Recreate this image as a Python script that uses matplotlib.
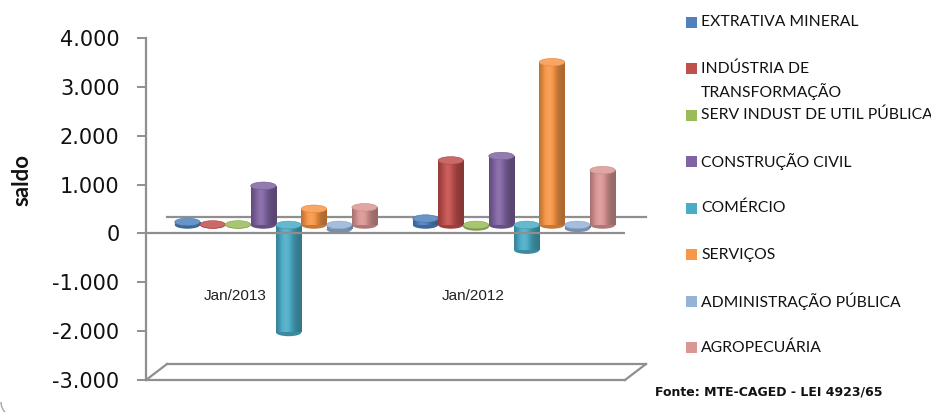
import numpy as np
import matplotlib
matplotlib.use("Agg")
import matplotlib.pyplot as plt
import matplotlib.transforms as mtransforms
from matplotlib.patches import Ellipse, Rectangle, Arc
from matplotlib.lines import Line2D
from matplotlib.colors import to_rgb

# ---------------- data ----------------
periods = ["Jan/2013", "Jan/2012"]
sectors = ["EXTRATIVA MINERAL", "INDÚSTRIA DE\nTRANSFORMAÇÃO",
           "SERV INDUST DE UTIL PÚBLICA", "CONSTRUÇÃO CIVIL", "COMÉRCIO",
           "SERVIÇOS", "ADMINISTRAÇÃO PÚBLICA", "AGROPECUÁRIA"]
extrativa = [60, 130]
industria = [10, 1320]
serv_util = [10, -40]
construcao = [800, 1410]
comercio = [-2200, -515]
servicos = [330, 3330]
administracao = [-90, -70]
agropecuaria = [360, 1120]
series = [extrativa, industria, serv_util, construcao, comercio,
          servicos, administracao, agropecuaria]
colors = ["#4F81BD", "#C0504D", "#9BBB59", "#8064A2", "#4BACC6",
          "#F79646", "#95B3D7", "#D99694"]
yticks = [-3000, -2000, -1000, 0, 1000, 2000, 3000, 4000]
ytick_labels = ["-3.000", "-2.000", "-1.000", "0", "1.000", "2.000", "3.000", "4.000"]
source = "Fonte: MTE-CAGED - LEI 4923/65"
ylabel = "saldo"

# ---------------- style ----------------
W, H, DPI = 931, 412, 100
GRAY = "#8f8f8f"
LEG_FONT = ["Lato", "DejaVu Sans"]
TICK_FONT = ["DejaVu Sans"]
CAT_FONT = ["Liberation Sans", "DejaVu Sans"]
BAR_SHIFT_PX = 8.5          # bars stand at mid depth
DEPTH_DX_PX, DEPTH_DY_PX = 21, 16
CAP_PX = 7.6
ymin, ymax = -3000, 4000

fig = plt.figure(figsize=(W / DPI, H / DPI), dpi=DPI)
ax_left, ax_right, ax_top, ax_bot = 146, 625, 38, 380
ax = fig.add_axes([ax_left / W, (H - ax_bot) / H,
                   (ax_right - ax_left) / W, (ax_bot - ax_top) / H])

n = len(series)
group_x = np.arange(len(periods), dtype=float)
pitch = 0.1063
width = pitch * 1.0
xmin = -0.546
xmax = 1.466
ax.set_xlim(xmin, xmax)
ax.set_ylim(ymin, ymax)

px_per_unit = (ax_bot - ax_top) / (ymax - ymin)
cap_h = CAP_PX / px_per_unit

shift = ax.transData + mtransforms.ScaledTranslation(0, BAR_SHIFT_PX / DPI, fig.dpi_scale_trans)
back = ax.transData + mtransforms.ScaledTranslation(DEPTH_DX_PX / DPI, DEPTH_DY_PX / DPI,
                                                     fig.dpi_scale_trans)

# back lines (behind bars)
ax.plot([xmin, xmax], [0, 0], color=GRAY, lw=1.6, transform=back, clip_on=False, zorder=1)
ax.plot([xmin, xmax], [ymin, ymin], color=GRAY, lw=1.6, transform=back, clip_on=False, zorder=1)


def shade(rgb, f):
    rgb = np.asarray(rgb)
    if f <= 1:
        return rgb * f
    return rgb + (1 - rgb) * (f - 1)


t = np.linspace(0, 1, 64)
profile = 0.70 + 0.40 * np.exp(-((t - 0.38) / 0.28) ** 2)

for i, (vals, col) in enumerate(zip(series, colors)):
    base = np.array(to_rgb(col))
    xs = group_x + (i - (n - 1) / 2) * pitch
    bars = ax.bar(xs, vals, width=width, color=col, linewidth=0, zorder=3 + i * 0.01)
    grad = np.array([[np.clip(shade(base, f), 0, 1) for f in profile]])
    for b, x, v in zip(bars, xs, vals):
        b.set_transform(shift)
        y0, y1 = min(0, v), max(0, v)
        # lower rounded end
        ax.add_patch(Ellipse((x, y0), width, cap_h, transform=shift,
                             facecolor=shade(base, 0.8), edgecolor="none",
                             zorder=2.9 + i * 0.01))
        im = ax.imshow(grad, extent=[x - width / 2, x + width / 2, y0, y1],
                       aspect="auto", interpolation="bilinear",
                       zorder=3.001 + i * 0.01)
        im.set_transform(shift)
        im.set_clip_path(b)
        # top cap
        ax.add_patch(Ellipse((x, y1), width, cap_h, transform=shift,
                             facecolor=shade(base, 1.15), edgecolor=shade(base, 0.9),
                             linewidth=0.4, zorder=3.005 + i * 0.01))

ax.set_xlim(xmin, xmax)
ax.set_ylim(ymin, ymax)

# front zero line (over bars)
ax.axhline(0, color=GRAY, lw=1.6, zorder=10)

# axes styling
for s in ["top", "right"]:
    ax.spines[s].set_visible(False)
ax.spines["left"].set_color(GRAY)
ax.spines["left"].set_linewidth(1.6)
ax.spines["bottom"].set_color(GRAY)
ax.spines["bottom"].set_linewidth(1.6)
ax.set_xticks([])
ax.set_yticks(yticks)
ax.set_yticklabels(ytick_labels, fontsize=15, family=TICK_FONT, color="#111111")
ax.tick_params(axis="y", length=6.5, width=1.4, color=GRAY, pad=12.5)
ax.set_facecolor("none")

# diagonals of the floor
fig.canvas.draw()
for xe in (xmin, xmax):
    p0 = ax.transData.transform((xe, ymin))
    fig.add_artist(Line2D([p0[0], p0[0] + DEPTH_DX_PX], [p0[1], p0[1] + DEPTH_DY_PX],
                          transform=mtransforms.IdentityTransform(), color=GRAY, lw=1.6))

# category labels
for gx, lab in zip(group_x, periods):
    ax.text(gx - 0.172, -1290, lab, ha="center", va="center", fontsize=11,
            family=CAT_FONT, color="#222222", zorder=11)

# y label
fig.text(22 / W, 1 - 180 / H, ylabel, rotation=90, ha="center", va="center",
         fontsize=16, fontweight="bold", family=LEG_FONT, color="#111111")

# legend (manual)
leg_y0, leg_pitch = 22, 46.5
for i, (lab, col) in enumerate(zip(sectors, colors)):
    yc = leg_y0 + leg_pitch * i
    fig.add_artist(Rectangle((686 / W, 1 - (yc + 5.5) / H), 11 / W, 11 / H,
                             transform=fig.transFigure, facecolor=col, edgecolor="none"))
    for k, line in enumerate(lab.split("\n")):
        fig.text(701 / W, 1 - (yc + 23 * k) / H, line, ha="left", va="center",
                 fontsize=11.3, family=LEG_FONT, color="#111111")

# source note
fig.text(655 / W, 1 - 392 / H, source, ha="left", va="center", fontsize=9,
         fontweight="bold", family=["DejaVu Sans"], color="#111111")

# chart frame corner
fig.add_artist(Arc((16, 10), 30, 30, theta1=180, theta2=270,
                   transform=mtransforms.IdentityTransform(), color="#a6a6a6", lw=1.0))

fig.savefig("out.png", dpi=DPI)
